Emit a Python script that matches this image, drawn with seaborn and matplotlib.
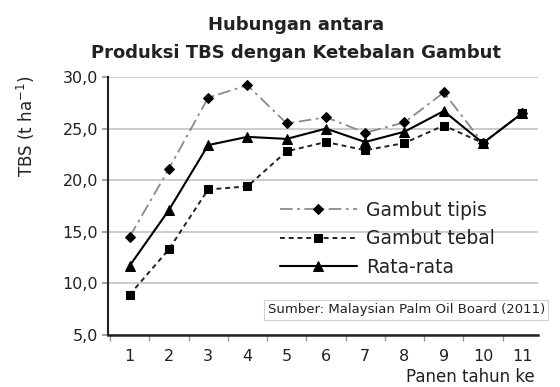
import numpy as np
import pandas as pd
import matplotlib
matplotlib.use("Agg")
import matplotlib.pyplot as plt
from matplotlib.ticker import FuncFormatter, FixedLocator
import seaborn as sns

# Panen tahun ke-
tahun = [1, 2, 3, 4, 5, 6, 7, 8, 9, 10, 11]
# Produksi TBS (t/ha) per ketebalan gambut
gambut_tipis = [14.5, 21.1, 28.0, 29.2, 25.5, 26.1, 24.6, 25.6, 28.5, 23.6, 26.5]
gambut_tebal = [8.9, 13.3, 19.1, 19.4, 22.8, 23.7, 22.9, 23.6, 25.3, 23.6, 26.5]
rata_rata = [11.7, 17.1, 23.4, 24.2, 24.0, 25.0, 23.7, 24.7, 26.7, 23.6, 26.5]
y_ticks = [5, 10, 15, 20, 25, 30]

sns.set_theme(style="white")
plt.rcParams["font.family"] = ["DejaVu Sans"]

fig = plt.figure(figsize=(5.6, 3.87), dpi=100)
ax = fig.add_axes([108 / 560, 1 - 335 / 387, 430 / 560, 258 / 387])

df = pd.DataFrame({"tahun": tahun, "tipis": gambut_tipis,
                   "tebal": gambut_tebal, "rata": rata_rata})

sns.lineplot(data=df, x="tahun", y="tipis", ax=ax, color="#8a8a8a",
             lw=1.3, label="Gambut tipis", zorder=3,
             marker="D", markersize=5, markerfacecolor="black",
             markeredgecolor="black")
ax.lines[-1].set_linestyle((0, (7, 2.5, 1.5, 2.5)))
sns.lineplot(data=df, x="tahun", y="tebal", ax=ax, color="#222222",
             lw=1.4, label="Gambut tebal", zorder=3,
             marker="s", markersize=6, markerfacecolor="black",
             markeredgecolor="black")
ax.lines[-1].set_linestyle((0, (2.5, 2)))
sns.lineplot(data=df, x="tahun", y="rata", ax=ax, color="black",
             lw=1.5, label="Rata-rata", zorder=4,
             marker="^", markersize=7, markerfacecolor="black",
             markeredgecolor="black")

ax.set_xlim(0.45, 11.4)
ax.set_ylim(5, 30)
ax.set_yticks(y_ticks)
ax.yaxis.set_major_formatter(FuncFormatter(lambda v, p: f"{v:.1f}".replace(".", ",")))
ax.set_xticks(tahun)
ax.set_xticklabels([str(t) for t in tahun])
ax.xaxis.set_minor_locator(FixedLocator(np.arange(0.5, 11.5, 1.0)))

ax.grid(axis="y", color="#c4c4c4", lw=1.2)
ax.grid(axis="x", visible=False)
for s in ["top", "right"]:
    ax.spines[s].set_visible(False)
ax.spines["left"].set_color("#222222")
ax.spines["left"].set_linewidth(1.5)
ax.spines["bottom"].set_color("#222222")
ax.spines["bottom"].set_linewidth(1.8)

ax.tick_params(axis="y", which="major", left=True, length=4, color="#999999",
               labelsize=11.5, pad=3, labelcolor="#222222")
ax.tick_params(axis="x", which="major", bottom=False, length=0,
               labelsize=11.5, pad=10, labelcolor="#222222")
ax.tick_params(axis="x", which="minor", bottom=True, length=4, color="#999999")

ax.set_xlabel("")
ax.set_ylabel("TBS (t ha$^{-1}$)", fontsize=12, color="#222222")
ax.yaxis.set_label_coords(-0.165, 0.81)

leg = ax.legend(loc="upper left", bbox_to_anchor=(280 / 560, 1 - 201 / 387),
                bbox_transform=fig.transFigure, frameon=False, fontsize=13.5,
                handlelength=4.1, handletextpad=0.5, labelspacing=0.5,
                borderaxespad=0, borderpad=0)
for t in leg.get_texts():
    t.set_color("#222222")

fig.text(0.528, 1 - 25 / 387, "Hubungan antara", ha="center", va="center",
         fontsize=13, fontweight="bold", color="#222222")
fig.text(0.528, 1 - 53 / 387, "Produksi TBS dengan Ketebalan Gambut",
         ha="center", va="center", fontsize=13, fontweight="bold",
         color="#222222")

fig.text(545 / 560, 1 - 310 / 387, "Sumber: Malaysian Palm Oil Board (2011)",
         ha="right", va="center", fontsize=9.5, color="#222222",
         bbox=dict(boxstyle="square,pad=0.25", fc="white", ec="#d0d0d0", lw=0.8))

fig.text(535 / 560, 1 - 386 / 387, "Panen tahun ke", ha="right", va="bottom",
         fontsize=12, color="#222222")

fig.savefig("out.png", dpi=100)
